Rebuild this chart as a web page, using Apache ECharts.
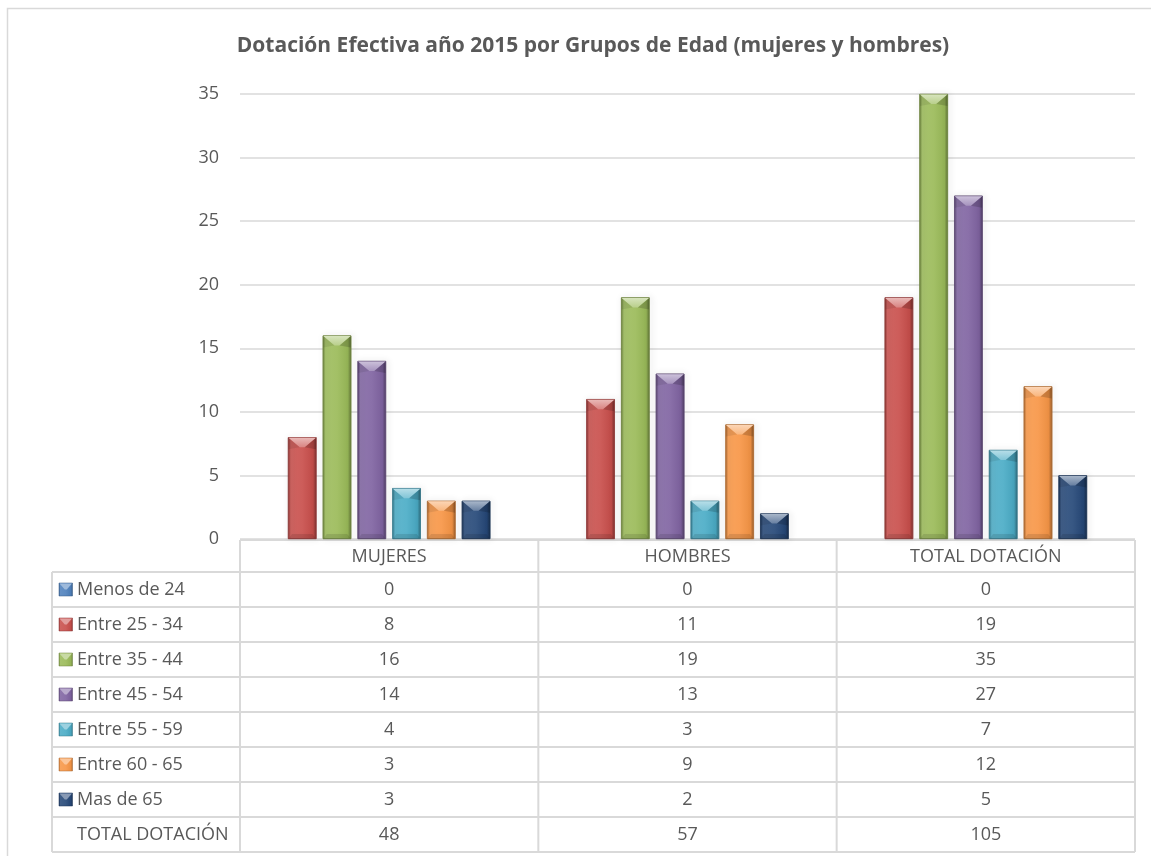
<!DOCTYPE html>
<html>
<head>
<meta charset="utf-8">
<script src="https://cdn.jsdelivr.net/npm/echarts@6/dist/echarts.min.js"></script>
<style>
html,body{margin:0;padding:0;background:#fff;}
#chart{width:1151px;height:856px;}
</style>
</head>
<body>
<div id="chart"></div>
<script>
// ---------- data ----------
const titleText = 'Dotación Efectiva año 2015 por Grupos de Edad (mujeres y hombres)';
const categories = ['MUJERES', 'HOMBRES', 'TOTAL DOTACIÓN'];
const seriesNames = ['Menos de 24', 'Entre 25 - 34', 'Entre 35 - 44', 'Entre 45 - 54', 'Entre 55 - 59', 'Entre 60 - 65', 'Mas de 65'];
const menosDe24 = [0, 0, 0];
const entre25a34 = [8, 11, 19];
const entre35a44 = [16, 19, 35];
const entre45a54 = [14, 13, 27];
const entre55a59 = [4, 3, 7];
const entre60a65 = [3, 9, 12];
const masDe65 = [3, 2, 5];
const totalLabel = 'TOTAL DOTACIÓN';
const totals = [48, 57, 105];
const yMin = 0, yMax = 35, yInterval = 5;

// ---------- style ----------
const seriesValues = [menosDe24, entre25a34, entre35a44, entre45a54, entre55a59, entre60a65, masDe65];
const colors = ['#4F81BD', '#C94F4C', '#9BBB59', '#8064A2', '#4BACC6', '#F79646', '#264878'];
const FONT = "'Open Sans', 'Liberation Sans', sans-serif";
const TXT = '#595959';
const LINE = '#d9d9d9';
const BAR_W = 28.5;
const BAR_GAP = 0.22;
const FS = 18;

function hexToRgb(h){h=h.replace('#','');return [parseInt(h.substr(0,2),16),parseInt(h.substr(2,2),16),parseInt(h.substr(4,2),16)];}
function mix(h, f){ // f>0 lighten toward white, f<0 darken toward black
  const c = hexToRgb(h);
  const r = c.map(v => f >= 0 ? Math.round(v + (255 - v) * f) : Math.round(v * (1 + f)));
  return 'rgb(' + r.join(',') + ')';
}
function barGradient(h){
  return new echarts.graphic.LinearGradient(0, 0, 1, 0, [
    {offset: 0, color: mix(h, -0.3)},
    {offset: 0.1, color: mix(h, 0.12)},
    {offset: 0.5, color: mix(h, 0.08)},
    {offset: 0.88, color: mix(h, -0.05)},
    {offset: 1, color: mix(h, -0.38)}
  ]);
}

const chart = echarts.init(document.getElementById('chart'), null, {renderer: 'canvas'});

// visible series are indices 1..6; "Menos de 24" (all zero) sits on a hidden overlay axis so it takes no slot
const visibleIdx = [1, 2, 3, 4, 5, 6];
const series = [];
series.push({
  name: seriesNames[0], type: 'bar', xAxisIndex: 1, yAxisIndex: 0,
  data: seriesValues[0], barWidth: BAR_W,
  itemStyle: {color: colors[0]}
});
visibleIdx.forEach(i => {
  series.push({
    name: seriesNames[i], type: 'bar', xAxisIndex: 0, yAxisIndex: 0,
    data: seriesValues[i], barWidth: BAR_W, barGap: (BAR_GAP * 100) + '%',
    itemStyle: {
      color: barGradient(colors[i]),
      borderColor: mix(colors[i], -0.3), borderWidth: 0.6,
      shadowBlur: 6, shadowColor: 'rgba(0,0,0,0.3)', shadowOffsetX: 1.5, shadowOffsetY: 0
    }
  });
});
// bevel caps built from the same arrays
const capData = [];
visibleIdx.forEach((si, k) => {
  seriesValues[si].forEach((v, c) => capData.push([c, v, k, si]));
});
series.push({
  type: 'custom', xAxisIndex: 0, yAxisIndex: 0, z: 5, silent: true,
  encode: {x: 0, y: 1},
  data: capData,
  renderItem: function(params, api){
    const c = api.value(0), v = api.value(1), k = api.value(2), si = api.value(3);
    if (v <= 0) return null;
    const top = api.coord([c, v]);
    const base = api.coord([c, 0]);
    const pitch = BAR_W * (1 + BAR_GAP);
    const cx = top[0] + (k - (visibleIdx.length - 1) / 2) * pitch;
    const l = cx - BAR_W / 2, r = cx + BAR_W / 2, t = top[1], b = base[1];
    const d = Math.min(10, (b - t) / 2);
    const col = colors[si];
    return {
      type: 'group',
      children: [
        {type: 'polygon', shape: {points: [[l + 0.5, t + 0.5], [r - 0.5, t + 0.5], [cx + 2.5, t + d], [cx - 2.5, t + d]]},
          style: {fill: new echarts.graphic.LinearGradient(0, 0, 0, 1, [{offset: 0, color: mix(col, 0.6)}, {offset: 1, color: mix(col, 0.3)}])}},
        {type: 'polygon', shape: {points: [[l + 0.5, t + 0.5], [cx - 2.5, t + d], [l + 0.5, t + d + 2]]},
          style: {fill: 'rgba(0,0,0,0.08)'}},
        {type: 'polygon', shape: {points: [[r - 0.5, t + 0.5], [cx + 2.5, t + d], [r - 0.5, t + d + 2]]},
          style: {fill: 'rgba(0,0,0,0.16)'}},
        {type: 'polygon', shape: {points: [[l + 4, b - 5], [r - 4, b - 5], [r - 0.5, b], [l + 0.5, b]]},
          style: {fill: 'rgba(0,0,0,0.10)'}}
      ]
    };
  }
});

const option = {
  backgroundColor: '#fff',
  animation: false,
  title: {
    text: titleText, left: 588, top: 31, textAlign: 'center',
    textStyle: {fontFamily: FONT, fontSize: 21, fontWeight: 'bold', color: TXT}
  },
  grid: {left: 240, right: 16, top: 94, bottom: 317, containLabel: false},
  xAxis: [
    {type: 'category', data: categories, axisLine: {show: false}, axisTick: {show: false}, axisLabel: {show: false}, splitLine: {show: false}},
    {type: 'category', data: categories, show: false}
  ],
  yAxis: [{
    type: 'value', min: yMin, max: yMax, interval: yInterval,
    axisLine: {show: false}, axisTick: {show: false},
    axisLabel: {fontFamily: FONT, fontSize: FS, color: TXT, margin: 21},
    splitLine: {lineStyle: {color: LINE, width: 1.5}}
  }],
  series: series
};
chart.setOption(option);

// ---------- data table under the axis, aligned to the category axis ----------
function buildTable(){
  const centers = categories.map((c, i) => chart.convertToPixel({xAxisIndex: 0}, i));
  const band = centers.length > 1 ? centers[1] - centers[0] : 298;
  const colEdges = [centers[0] - band / 2].concat(centers.map(x => x + band / 2));
  const yAxisZero = chart.convertToPixel({yAxisIndex: 0}, 0);
  const tableLeft = 52;
  const headTop = yAxisZero + 1;
  const headBottom = headTop + 32;
  const rowH = 35;
  const rowLabels = seriesNames.concat([totalLabel]);
  const nRows = rowLabels.length;
  const tableBottom = headBottom + nRows * rowH;
  const els = [];
  const ln = (x1, y1, x2, y2) => els.push({type: 'line', silent: true, z: 1,
    shape: {x1, y1, x2, y2}, style: {stroke: LINE, lineWidth: 2}});
  // outer chart frame
  els.push({type: 'rect', silent: true, z: 0, shape: {x: 7.5, y: 8.5, width: 1200, height: 900},
    style: {fill: 'none', stroke: LINE, lineWidth: 1.5}});
  // grid lines of the table
  ln(colEdges[0], headTop, colEdges[colEdges.length - 1], headTop);
  colEdges.forEach(x => ln(x, headTop, x, tableBottom));
  ln(tableLeft, headBottom, colEdges[colEdges.length - 1], headBottom);
  ln(tableLeft, headBottom, tableLeft, tableBottom);
  for (let r = 1; r <= nRows; r++) ln(tableLeft, headBottom + r * rowH, colEdges[colEdges.length - 1], headBottom + r * rowH);
  // header labels
  categories.forEach((c, i) => els.push({type: 'text', silent: true, z: 2,
    style: {text: c, x: centers[i], y: (headTop + headBottom) / 2 + 1, textAlign: 'center', textVerticalAlign: 'middle',
      font: FS + 'px ' + FONT, fill: TXT}}));
  // rows
  rowLabels.forEach((lab, r) => {
    const cy = headBottom + r * rowH + rowH / 2;
    els.push({type: 'text', silent: true, z: 2,
      style: {text: lab, x: 77, y: cy, textAlign: 'left', textVerticalAlign: 'middle', font: FS + 'px ' + FONT, fill: TXT}});
    if (r < seriesNames.length) {
      const col = colors[r];
      const kx = 59, ky = cy - 6.5, ks = 13.5;
      els.push({type: 'rect', silent: true, z: 2, shape: {x: kx, y: ky, width: ks, height: 13},
        style: {fill: barGradient(col), stroke: mix(col, -0.3), lineWidth: 0.5}});
      els.push({type: 'polygon', silent: true, z: 3,
        shape: {points: [[kx + 0.5, ky + 0.5], [kx + ks - 0.5, ky + 0.5], [kx + ks / 2 + 1, ky + 6.5], [kx + ks / 2 - 1, ky + 6.5]]},
        style: {fill: mix(col, 0.45)}});
    }
    const vals = r < seriesNames.length ? seriesValues[r] : totals;
    vals.forEach((v, i) => els.push({type: 'text', silent: true, z: 2,
      style: {text: String(v), x: centers[i], y: cy, textAlign: 'center', textVerticalAlign: 'middle', font: FS + 'px ' + FONT, fill: TXT}}));
  });
  chart.setOption({graphic: {elements: els}});
}
buildTable();
</script>
</body>
</html>
